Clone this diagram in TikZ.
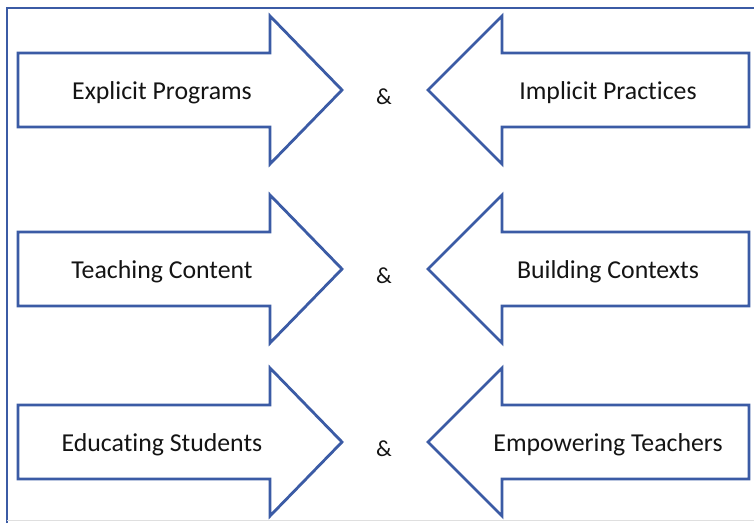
\documentclass[tikz,border=0pt]{standalone}
\usepackage{fontspec}
\setmainfont{Carlito}[Ligatures=NoCommon]
\definecolor{arrowblue}{HTML}{3B5BA5}
\definecolor{txt}{HTML}{141414}
\begin{document}
\begin{tikzpicture}[x=1pt,y=-1pt,
  arrowshape/.style={draw=arrowblue, line width=2.8pt, fill=white, line join=miter},
  arrowtext/.style={text=txt, font=\fontsize{25.8}{30}\selectfont, inner sep=0pt, anchor=base},
  amp/.style={text=txt, font=\fontsize{23}{27}\selectfont, inner sep=0pt, anchor=base}]
\useasboundingbox (0,0) rectangle (754,523);
\fill[white] (0,0) rectangle (754,523);
\draw[arrowblue, line width=2.4pt] (7,523) -- (7,8) -- (754,8);
\draw[gray!25, line width=1pt] (7,520) -- (754,520);
\foreach \cy in {90,269,442} {
  \draw[arrowshape] (18,{\cy-37}) -- (270,{\cy-37}) -- (270,{\cy-74}) -- (342,\cy) -- (270,{\cy+74}) -- (270,{\cy+37}) -- (18,{\cy+37}) -- cycle;
  \draw[arrowshape] (749,{\cy-37}) -- (502,{\cy-37}) -- (502,{\cy-74}) -- (428,\cy) -- (502,{\cy+74}) -- (502,{\cy+37}) -- (749,{\cy+37}) -- cycle;
}
\node[arrowtext] (l1) at (162,99) {Explicit Programs};
\node[arrowtext] (r1) at (608,99) {Implicit Practices};
\node[amp] (a1) at (384,104) {\&};
\node[arrowtext] (l2) at (162,278) {Teaching Content};
\node[arrowtext] (r2) at (608,278) {Building Contexts};
\node[amp] (a2) at (384,283) {\&};
\node[arrowtext] (l3) at (162,451) {Educating Students};
\node[arrowtext] (r3) at (608,451) {Empowering Teachers};
\node[amp] (a3) at (384,456) {\&};
\end{tikzpicture}
\end{document}
